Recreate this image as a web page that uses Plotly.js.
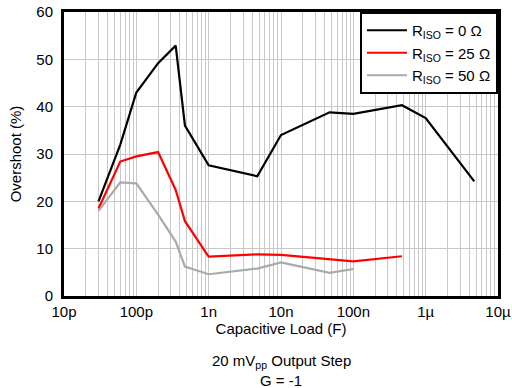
<!DOCTYPE html>
<html><head><meta charset="utf-8">
<script src="https://cdn.plot.ly/plotly-3.0.1.min.js"></script>
<style>html,body{margin:0;padding:0;background:#fff;}#chart{width:512px;height:388px;}</style>
</head><body><div id="chart"></div>
<script>
const capR0 = [30e-12, 60e-12, 100e-12, 200e-12, 350e-12, 470e-12, 1e-9, 4.7e-9, 10e-9, 47e-9, 100e-9, 470e-9, 1e-6, 4.7e-6];
const overR0 = [20, 32, 43, 49.2, 52.9, 36, 27.6, 25.3, 34, 38.8, 38.5, 40.3, 37.6, 24.2];
const capR25 = [30e-12, 60e-12, 100e-12, 200e-12, 350e-12, 470e-12, 1e-9, 4.7e-9, 10e-9, 100e-9, 470e-9];
const overR25 = [18.5, 28.4, 29.5, 30.4, 22.4, 15.8, 8.3, 8.8, 8.7, 7.3, 8.4];
const capR50 = [30e-12, 60e-12, 100e-12, 200e-12, 350e-12, 470e-12, 1e-9, 4.7e-9, 10e-9, 47e-9, 100e-9];
const overR50 = [18, 24, 23.8, 17.2, 11.5, 6.2, 4.6, 5.8, 7.1, 4.9, 5.7];
const names = ['R<sub>ISO</sub> = 0 Ω', 'R<sub>ISO</sub> = 25 Ω', 'R<sub>ISO</sub> = 50 Ω'];
const xTickVals = [1e-11, 1e-10, 1e-9, 1e-8, 1e-7, 1e-6, 1e-5];
const xTickText = ['10p', '100p', '1n', '10n', '100n', '1µ', '10µ'];
const yTickVals = [0, 10, 20, 30, 40, 50, 60];

const font = {family: 'Liberation Sans, Arial, sans-serif', size: 15, color: '#000'};
const grid = '#c8c8c8';
const traces = [
  {x: capR0, y: overR0, name: names[0], mode: 'lines', line: {color: '#000000', width: 2.2}},
  {x: capR25, y: overR25, name: names[1], mode: 'lines', line: {color: '#ff0000', width: 2.2}},
  {x: capR50, y: overR50, name: names[2], mode: 'lines', line: {color: '#aaaaaa', width: 2.2}}
];
const layout = {
  width: 512, height: 388,
  margin: {l: 64, r: 14, t: 12, b: 92},
  paper_bgcolor: '#fff', plot_bgcolor: '#fff',
  font: font,
  showlegend: true,
  legend: {x: 1, y: 1, xanchor: 'right', yanchor: 'top', bgcolor: '#fff', bordercolor: '#000', borderwidth: 2,
           font: {family: font.family, size: 15, color: '#000'}, tracegroupgap: 0, itemwidth: 40},
  xaxis: {
    type: 'log', range: [-11, -5],
    tickvals: xTickVals, ticktext: xTickText, ticks: '',
    showgrid: true, gridcolor: grid, gridwidth: 1,
    minor: {dtick: 'D1', showgrid: true, gridcolor: grid, gridwidth: 1, ticks: ''},
    showline: true, linecolor: '#000', linewidth: 3, mirror: true,
    zeroline: false,
    title: {text: 'Capacitive Load (F)', font: font, standoff: 3}
  },
  yaxis: {
    range: [0, 60], tickvals: yTickVals, ticks: '', ticklabelstandoff: 5,
    showgrid: true, gridcolor: grid, gridwidth: 1,
    showline: true, linecolor: '#000', linewidth: 3, mirror: true,
    zeroline: false,
    title: {text: 'Overshoot (%)', font: font, standoff: 12}
  },
  annotations: [
    {text: '20 mV<sub>pp</sub> Output Step', xref: 'paper', yref: 'paper', x: 0.5, y: -0.229, yanchor: 'middle', showarrow: false, font: font},
    {text: 'G = -1', xref: 'paper', yref: 'paper', x: 0.5, y: -0.296, yanchor: 'middle', showarrow: false, font: font}
  ]
};
Plotly.newPlot('chart', traces, layout, {displayModeBar: false, staticPlot: true});
</script></body></html>
